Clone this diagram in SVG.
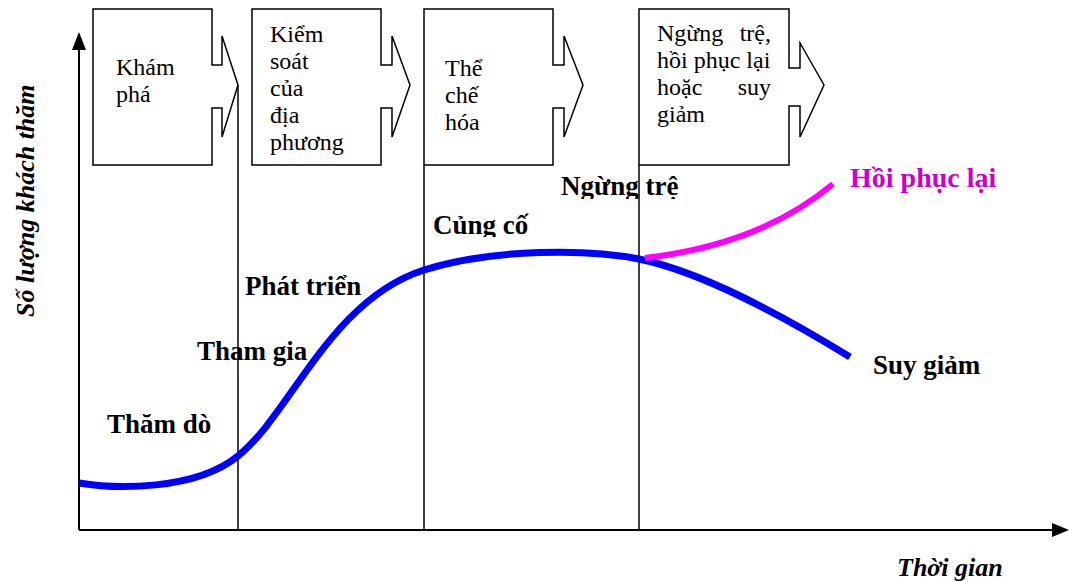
<svg xmlns="http://www.w3.org/2000/svg" width="1074" height="582" viewBox="0 0 1074 582">
<style>
.box{fill:#fff;stroke:#000;stroke-width:1.5}
.bt{font-family:"Liberation Serif","Times New Roman",serif;font-size:24px;fill:#000}
.lb{font-family:"Liberation Serif","Times New Roman",serif;font-size:27px;font-weight:bold;fill:#000}
.ax{font-family:"Liberation Serif","Times New Roman",serif;font-size:26px;font-weight:bold;font-style:italic;fill:#000}
.div{stroke:#000;stroke-width:1.5;fill:none}
.axis{stroke:#000;stroke-width:2;fill:none}
</style>
<defs>
<clipPath id="clipCung"><rect x="400" y="190" width="150" height="47"/></clipPath>
<clipPath id="clipNgung"><rect x="540" y="150" width="160" height="49"/></clipPath>
</defs>
<rect width="1074" height="582" fill="#fff"/>
<g id="box1">
<path class="box" d="M93,9 H212 V65 H222 V36 L238,85 L222,137 V108 H212 V165 H93 Z"/>
<text class="bt" x="116" y="75">Khám</text>
<text class="bt" x="116" y="102">phá</text>
</g>
<g id="box2">
<path class="box" d="M252,9 H381 V65 H392 V36 L410,85 L392,137 V108 H381 V165 H252 Z"/>
<text class="bt" x="270" y="42">Kiểm</text>
<text class="bt" x="270" y="69">soát</text>
<text class="bt" x="270" y="96">của</text>
<text class="bt" x="270" y="123">địa</text>
<text class="bt" x="270" y="150">phương</text>
</g>
<g id="box3">
<path class="box" d="M424,9 H553 V65 H564 V36 L583,85 L564,137 V108 H553 V165 H424 Z"/>
<text class="bt" x="445" y="76">Thể</text>
<text class="bt" x="445" y="103">chế</text>
<text class="bt" x="445" y="130">hóa</text>
</g>
<g id="box4">
<path class="box" d="M639,9 H789 V68 H800 V43 L824,85 L800,137 V106 H789 V165 H639 Z"/>
<text class="bt" x="657" y="41">Ngừng</text>
<text class="bt" x="771" y="41" text-anchor="end">trệ,</text>
<text class="bt" x="657" y="68">hồi phục lại</text>
<text class="bt" x="657" y="95">hoặc</text>
<text class="bt" x="771" y="95" text-anchor="end">suy</text>
<text class="bt" x="657" y="122">giảm</text>
</g>
<g id="labels">
<text class="lb" x="107" y="433">Thăm dò</text>
<text class="lb" x="197" y="360">Tham gia</text>
<text class="lb" x="245" y="295">Phát triển</text>
<text class="lb" x="433" y="234" clip-path="url(#clipCung)">Củng cố</text>
<text class="lb" x="561" y="195" clip-path="url(#clipNgung)">Ngừng trệ</text>
<text class="lb" x="850" y="187" style="fill:#CC00CC;font-size:28px">Hồi phục lại</text>
<text class="lb" x="873" y="374">Suy giảm</text>
<text class="ax" x="897" y="576">Thời gian</text>
<text class="ax" transform="translate(34,317) rotate(-90)">Số lượng khách thăm</text>
</g>
<g id="connectors">
<line class="div" x1="238" y1="85" x2="238" y2="530"/>
<line class="div" x1="424" y1="165" x2="424" y2="530"/>
<line class="div" x1="639" y1="165" x2="639" y2="530"/>
<line class="axis" x1="79" y1="530" x2="79" y2="48"/>
<polygon points="79,32 72,50 86,50" fill="#000"/>
<line class="axis" x1="79" y1="530" x2="1054" y2="530"/>
<polygon points="1069,530 1052,523 1052,537" fill="#000"/>
<path id="curve" fill="none" stroke="#0000FF" stroke-width="7" d="M79,483 C115,489 195,491 238,456 C290,415 330,300 424,270 C494,248 590,249 639,259 C703,272 790,320 850,357"/>
<path id="recovery" fill="none" stroke="#FF00FF" stroke-width="6" d="M645,258 Q760,245 833,184"/>
</g>
</svg>
